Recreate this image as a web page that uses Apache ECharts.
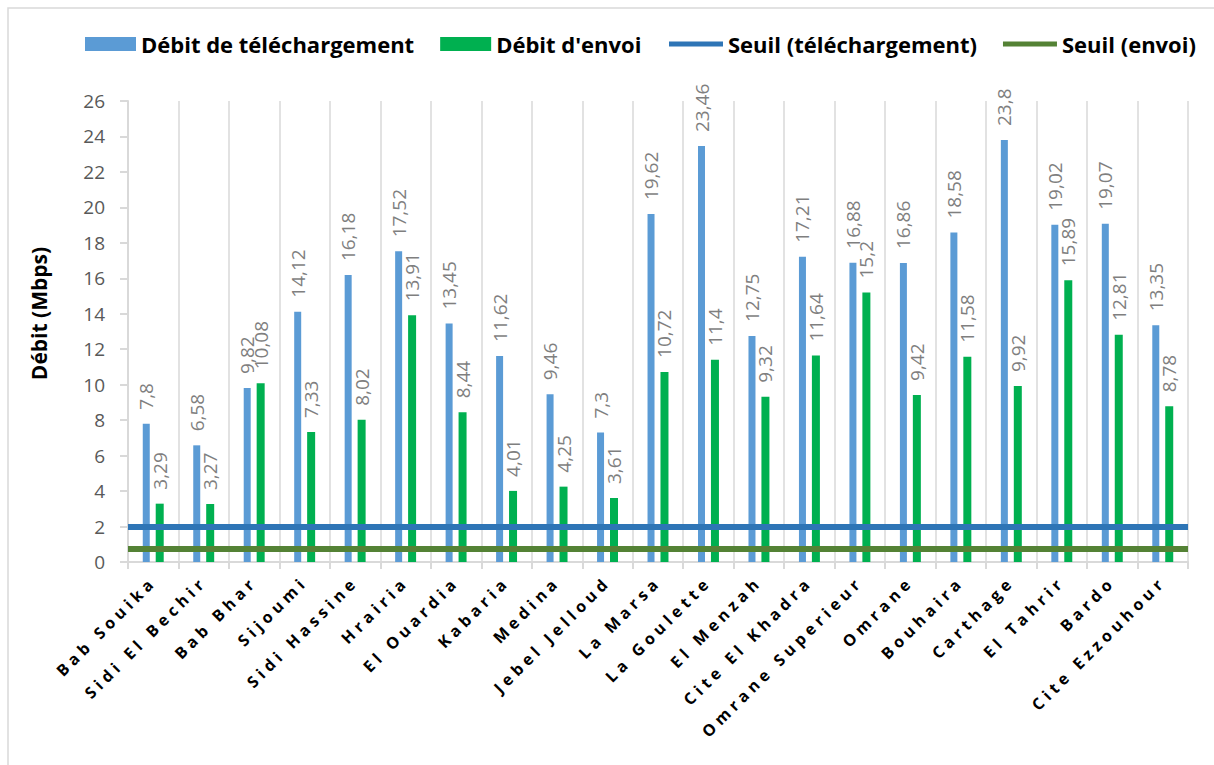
<!DOCTYPE html>
<html>
<head>
<meta charset="utf-8">
<script src="https://cdn.jsdelivr.net/npm/echarts@6/dist/echarts.min.js"></script>
<style>
html,body{margin:0;padding:0;background:#fff;}
#chart{width:1214px;height:765px;}
</style>
</head>
<body>
<div id="chart"></div>
<script>
const categories = ["Bab Souika","Sidi El Bechir","Bab Bhar","Sijoumi","Sidi Hassine","Hrairia","El Ouardia","Kabaria","Medina","Jebel Jelloud","La Marsa","La Goulette","El Menzah","Cite El Khadra","Omrane Superieur","Omrane","Bouhaira","Carthage","El Tahrir","Bardo","Cite Ezzouhour"];
const debitTelechargement = [7.8,6.58,9.82,14.12,16.18,17.52,13.45,11.62,9.46,7.3,19.62,23.46,12.75,17.21,16.88,16.86,18.58,23.8,19.02,19.07,13.35];
const debitEnvoi = [3.29,3.27,10.08,7.33,8.02,13.91,8.44,4.01,4.25,3.61,10.72,11.4,9.32,11.64,15.2,9.42,11.58,9.92,15.89,12.81,8.78];
const seuilTelechargement = 2;
const seuilEnvoi = 0.75;
const yTicks = {min:0, max:26, interval:2};

const FONT = "'Open Sans', sans-serif";
const chart = echarts.init(document.getElementById('chart'), null, {renderer:'svg'});
const barLabel = {
  show:true, position:'top', rotate:90, align:'left', verticalAlign:'middle', distance:14,
  color:'#7f7f7f', fontSize:19, fontFamily:FONT,
  formatter: p => String(p.value).replace('.', ',')
};
const option = {
  animation:false,
  backgroundColor:'#fff',
  graphic:[{type:'rect', shape:{x:8,y:8,width:1230,height:790}, style:{fill:'none', stroke:'#d9d9d9', lineWidth:1.5}, silent:true}],
  legend:[
    {data:['Débit de téléchargement',"Débit d'envoi"], left:80, top:28, itemWidth:51, itemHeight:14, itemGap:26, icon:'rect',
     textStyle:{fontSize:22, fontWeight:'bold', color:'#000', fontFamily:FONT}},
    {data:['Seuil (téléchargement)','Seuil (envoi)'], left:664, top:28, itemWidth:54, itemHeight:5, itemGap:26, icon:'rect',
     textStyle:{fontSize:22, fontWeight:'bold', color:'#000', fontFamily:FONT}}
  ],
  grid:{left:128, right:26, top:101, bottom:203, containLabel:false},
  xAxis:{
    type:'category', data:categories, boundaryGap:true,
    axisLine:{show:true, lineStyle:{color:'#d9d9d9', width:2}},
    axisTick:{show:true, length:7, lineStyle:{color:'#d9d9d9', width:2}},
    splitLine:{show:true, lineStyle:{color:'#d9d9d9', width:1.5}},
    axisLabel:{interval:0, rotate:45, margin:17, color:'#000', fontWeight:'bold', fontSize:16, fontFamily:FONT}
  },
  yAxis:{
    type:'value', min:yTicks.min, max:yTicks.max, interval:yTicks.interval,
    name:'Débit (Mbps)', nameLocation:'middle', nameRotate:90, nameGap:79,
    nameTextStyle:{fontSize:21, fontWeight:'bold', color:'#000', fontFamily:FONT, padding:[0,0,0,36]},
    axisLine:{show:true, lineStyle:{color:'#d9d9d9', width:2}},
    axisTick:{show:true, length:8, lineStyle:{color:'#d9d9d9', width:2}},
    splitLine:{show:false},
    axisLabel:{color:'#595959', fontSize:19, margin:23, fontFamily:FONT}
  },
  series:[
    {name:'Débit de téléchargement', type:'bar', data:debitTelechargement, barWidth:7, barGap:'85%',
     itemStyle:{color:'#5B9BD5'}, label:barLabel, z:2},
    {name:"Débit d'envoi", type:'bar', data:debitEnvoi, barWidth:8,
     itemStyle:{color:'#00B050'}, label:barLabel, z:2},
    {name:'Seuil (téléchargement)', type:'line', data:[], itemStyle:{color:'#2E75B6'}, lineStyle:{color:'#2E75B6'},
     markLine:{silent:true, symbol:['none','none'], label:{show:false}, lineStyle:{color:'#2E75B6', width:6, type:'solid'},
       data:[{yAxis:seuilTelechargement}]}, z:5},
    {name:'Seuil (envoi)', type:'line', data:[], itemStyle:{color:'#548235'}, lineStyle:{color:'#548235'},
     markLine:{silent:true, symbol:['none','none'], label:{show:false}, lineStyle:{color:'#548235', width:6, type:'solid'},
       data:[{yAxis:seuilEnvoi}]}, z:5}
  ]
};
chart.setOption(option);
function spaceLabels(){
  document.querySelectorAll('#chart svg text').forEach(t => {
    if (categories.includes(t.textContent)) t.setAttribute('letter-spacing','4.5');
  });
}
chart.on('finished', spaceLabels);
spaceLabels();
</script>
</body>
</html>
